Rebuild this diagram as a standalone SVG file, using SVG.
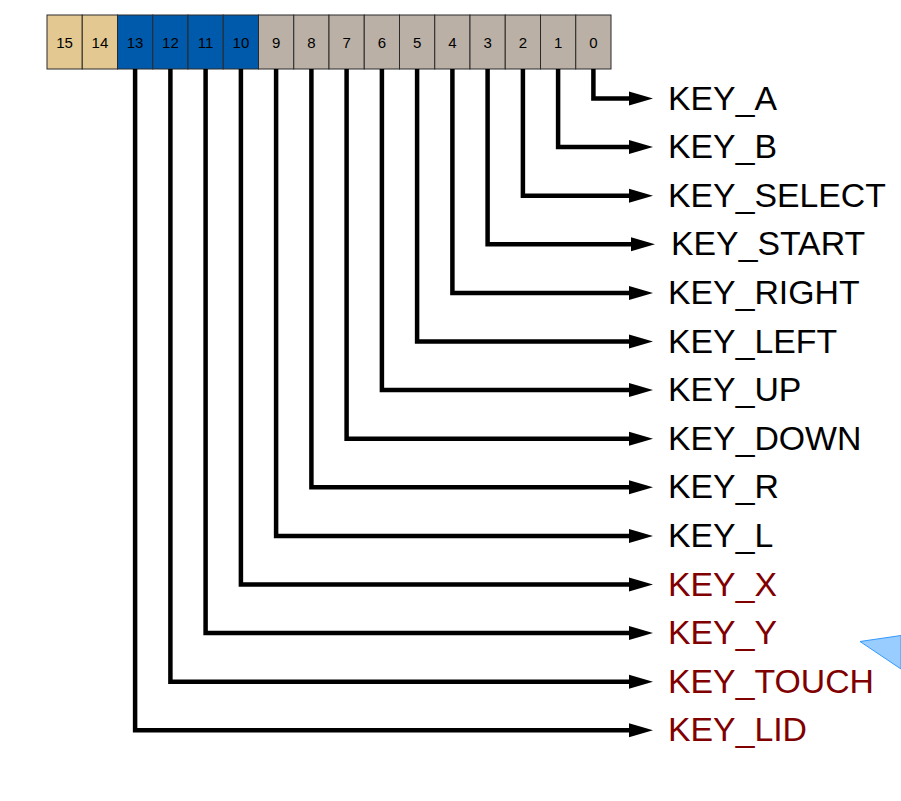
<svg xmlns="http://www.w3.org/2000/svg" width="901" height="801" viewBox="0 0 901 801">
<defs>
<style>
.box{stroke:#2a2a2a;stroke-width:1}
.tan{fill:#e3c991}
.blu{fill:#005aac}
.gry{fill:#bab0a6}
.num{font-family:"Liberation Sans",Arial,sans-serif;font-size:15px;fill:#000;text-anchor:middle}
.lbl{font-family:"Liberation Sans",Arial,sans-serif;font-size:33.8px;fill:#000}
.red{fill:#800000}
.wire{fill:none;stroke:#000;stroke-width:4.5;stroke-linejoin:miter;stroke-linecap:butt}
</style>
<marker id="ah" markerUnits="userSpaceOnUse" markerWidth="26" markerHeight="16" refX="0" refY="8" orient="auto">
<polygon points="0,1 24,8 0,15" fill="#000"/>
</marker>
</defs>
<rect width="901" height="801" fill="#fff"/>
<g id="register">
<g id="bit15"><rect class="box tan" x="47" y="15" width="35.25" height="54"/><text class="num" x="64.6" y="47.5">15</text></g>
<g id="bit14"><rect class="box tan" x="82.25" y="15" width="35.25" height="54"/><text class="num" x="99.9" y="47.5">14</text></g>
<g id="bit13"><rect class="box blu" x="117.5" y="15" width="35.25" height="54"/><text class="num" x="135.1" y="47.5">13</text></g>
<g id="bit12"><rect class="box blu" x="152.75" y="15" width="35.25" height="54"/><text class="num" x="170.4" y="47.5">12</text></g>
<g id="bit11"><rect class="box blu" x="188" y="15" width="35.25" height="54"/><text class="num" x="205.6" y="47.5">11</text></g>
<g id="bit10"><rect class="box blu" x="223.25" y="15" width="35.25" height="54"/><text class="num" x="240.9" y="47.5">10</text></g>
<g id="bit9"><rect class="box gry" x="258.5" y="15" width="35.25" height="54"/><text class="num" x="276.1" y="47.5">9</text></g>
<g id="bit8"><rect class="box gry" x="293.75" y="15" width="35.25" height="54"/><text class="num" x="311.4" y="47.5">8</text></g>
<g id="bit7"><rect class="box gry" x="329" y="15" width="35.25" height="54"/><text class="num" x="346.6" y="47.5">7</text></g>
<g id="bit6"><rect class="box gry" x="364.25" y="15" width="35.25" height="54"/><text class="num" x="381.9" y="47.5">6</text></g>
<g id="bit5"><rect class="box gry" x="399.5" y="15" width="35.25" height="54"/><text class="num" x="417.1" y="47.5">5</text></g>
<g id="bit4"><rect class="box gry" x="434.75" y="15" width="35.25" height="54"/><text class="num" x="452.4" y="47.5">4</text></g>
<g id="bit3"><rect class="box gry" x="470" y="15" width="35.25" height="54"/><text class="num" x="487.6" y="47.5">3</text></g>
<g id="bit2"><rect class="box gry" x="505.25" y="15" width="35.25" height="54"/><text class="num" x="522.9" y="47.5">2</text></g>
<g id="bit1"><rect class="box gry" x="540.5" y="15" width="35.25" height="54"/><text class="num" x="558.1" y="47.5">1</text></g>
<g id="bit0"><rect class="box gry" x="575.75" y="15" width="35.25" height="54"/><text class="num" x="593.4" y="47.5">0</text></g>
</g>
<g id="connectors" class="wire">
<polyline points="593.4,69 593.4,98.5 629,98.5" marker-end="url(#ah)"/>
<polyline points="558.1,69 558.1,147.1 629,147.1" marker-end="url(#ah)"/>
<polyline points="522.9,69 522.9,195.7 629,195.7" marker-end="url(#ah)"/>
<polyline points="487.6,69 487.6,244.3 631,244.3" marker-end="url(#ah)"/>
<polyline points="452.4,69 452.4,292.9 629,292.9" marker-end="url(#ah)"/>
<polyline points="417.1,69 417.1,341.5 629,341.5" marker-end="url(#ah)"/>
<polyline points="381.9,69 381.9,390.1 629,390.1" marker-end="url(#ah)"/>
<polyline points="346.6,69 346.6,438.7 629,438.7" marker-end="url(#ah)"/>
<polyline points="311.4,69 311.4,487.3 629,487.3" marker-end="url(#ah)"/>
<polyline points="276.1,69 276.1,535.9 629,535.9" marker-end="url(#ah)"/>
<polyline points="240.9,69 240.9,584.5 629,584.5" marker-end="url(#ah)"/>
<polyline points="205.6,69 205.6,633.1 629,633.1" marker-end="url(#ah)"/>
<polyline points="170.4,69 170.4,681.7 629,681.7" marker-end="url(#ah)"/>
<polyline points="135.1,69 135.1,730.3 629,730.3" marker-end="url(#ah)"/>
</g>
<g id="labels">
<text id="KEY_A" class="lbl" x="668" y="109.5">KEY_A</text>
<text id="KEY_B" class="lbl" x="668" y="158.1">KEY_B</text>
<text id="KEY_SELECT" class="lbl" x="668" y="206.7">KEY_SELECT</text>
<text id="KEY_START" class="lbl" x="671" y="255.3">KEY_START</text>
<text id="KEY_RIGHT" class="lbl" x="668" y="303.9">KEY_RIGHT</text>
<text id="KEY_LEFT" class="lbl" x="668" y="352.5">KEY_LEFT</text>
<text id="KEY_UP" class="lbl" x="668" y="401.1">KEY_UP</text>
<text id="KEY_DOWN" class="lbl" x="668" y="449.7">KEY_DOWN</text>
<text id="KEY_R" class="lbl" x="668" y="498.3">KEY_R</text>
<text id="KEY_L" class="lbl" x="668" y="546.9">KEY_L</text>
<text id="KEY_X" class="lbl red" x="668" y="595.5">KEY_X</text>
<text id="KEY_Y" class="lbl red" x="668" y="644.1">KEY_Y</text>
<text id="KEY_TOUCH" class="lbl red" x="668" y="692.7">KEY_TOUCH</text>
<text id="KEY_LID" class="lbl red" x="668" y="741.3">KEY_LID</text>
</g>
<polygon id="pointer" points="860,641.5 901,635.5 901,669" fill="#99ccff" stroke="#3399ff" stroke-width="1"/>
</svg>
